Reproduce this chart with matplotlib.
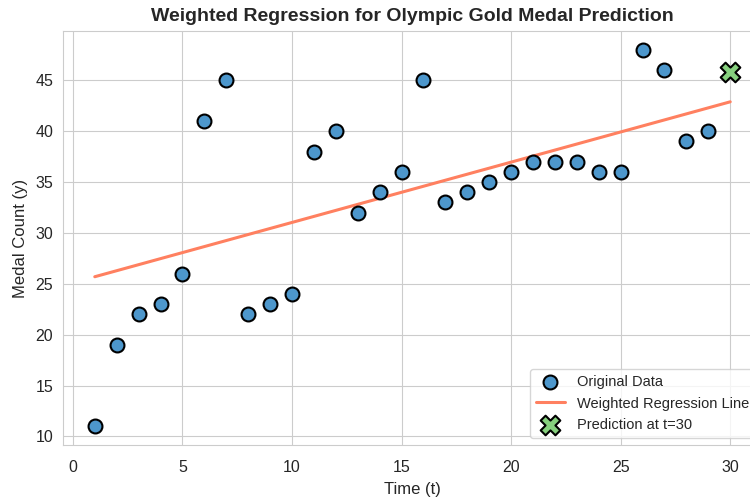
import numpy as np
import matplotlib
matplotlib.use("Agg")
import matplotlib.pyplot as plt
import seaborn as sns

sns.set_style("whitegrid")
plt.rcParams['font.family'] = ['Liberation Sans', 'DejaVu Sans']

# medal counts per time step
t = [1, 2, 3, 4, 5, 6, 7, 8, 9, 10, 11, 12, 13, 14, 15,
     16, 17, 18, 19, 20, 21, 22, 23, 24, 25, 26, 27, 28, 29]
medals = [11, 19, 22, 23, 26, 41, 45, 22, 23, 24, 38, 40, 32, 34, 36,
          45, 33, 34, 35, 36, 37, 37, 37, 36, 36, 48, 46, 39, 40]

# fitted weighted regression coefficients
intercept = 25.1
slope = 0.593

t_pred = 30
y_pred = 45.8

fig = plt.figure(figsize=(7.5, 4.97), dpi=100)
ax = fig.add_axes([0.084, 0.1046, 0.932, 0.833])

ax.scatter(t, medals, s=100, color='#4d97cc', edgecolor='black',
           linewidth=1.5, label='Original Data', zorder=3)

t_line = np.array(t + [t_pred])
ax.plot(t_line, intercept + slope * t_line, color='#ff8060', linewidth=2.2,
        label='Weighted Regression Line', zorder=2)

ax.scatter([t_pred], [y_pred], s=200, marker='X', color='#86d07e',
           edgecolor='black', linewidth=1.5, label='Prediction at t=30', zorder=4)

ax.set_title('Weighted Regression for Olympic Gold Medal Prediction',
             fontsize=14, fontweight='bold', color='#262626', pad=7)
ax.set_xlabel('Time (t)', fontsize=12, color='#262626', labelpad=5)
ax.set_ylabel('Medal Count (y)', fontsize=12, color='#262626', labelpad=5)
ax.tick_params(labelsize=11.5, colors='#262626')
ax.tick_params(axis='x', pad=7)
ax.legend(loc='lower right', fontsize=10.5)

fig.savefig('out.png', dpi=100)
